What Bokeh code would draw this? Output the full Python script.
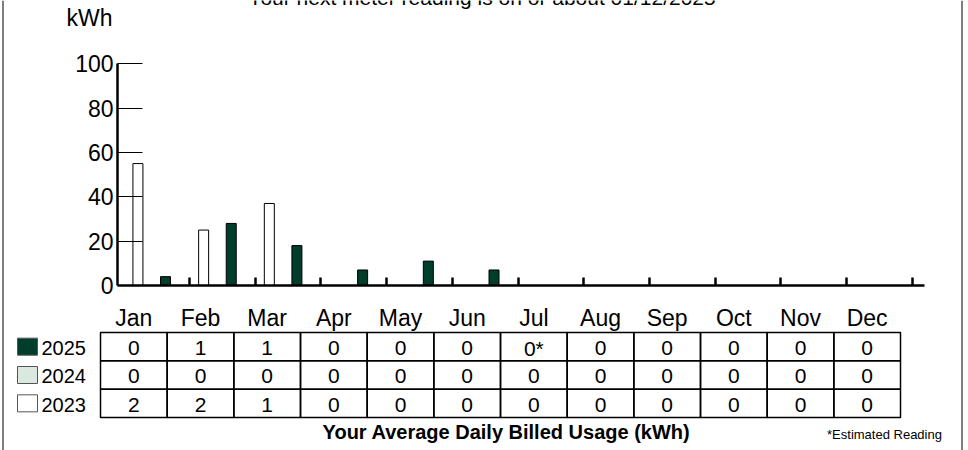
from bokeh.plotting import figure
from bokeh.models import Range1d, LinearAxis, FixedTicker, Span
from bokeh.core.properties import value
from bokeh.embed import file_html
from bokeh.resources import INLINE

# ---------------- data ----------------
months = ["Jan", "Feb", "Mar", "Apr", "May", "Jun", "Jul", "Aug", "Sep", "Oct", "Nov", "Dec"]
years = ["2025", "2024", "2023"]
kwh_2025 = [4, 28, 18, 7, 11, 7, 0, 0, 0, 0, 0, 0]
kwh_2024 = [0, 0, 0, 0, 0, 0, 0, 0, 0, 0, 0, 0]
kwh_2023 = [55, 25, 37, 0, 0, 0, 0, 0, 0, 0, 0, 0]
avg_2025 = ["0", "1", "1", "0", "0", "0", "0*", "0", "0", "0", "0", "0"]
avg_2024 = ["0", "0", "0", "0", "0", "0", "0", "0", "0", "0", "0", "0"]
avg_2023 = ["2", "2", "1", "0", "0", "0", "0", "0", "0", "0", "0", "0"]
y_ticks = [0, 20, 40, 60, 80, 100]
title_text = "Your next meter reading is on or about 01/12/2025"
unit_text = "kWh"
table_title = "Your Average Daily Billed Usage (kWh)"
note_text = "*Estimated Reading"

# ---------------- layout / style ----------------
W, H = 968, 450
MONTH0_PX, MONTH_PX = 123.3, 65.7      # chart x mapping (px)
Y0_PX, Y100_PX = 285.0, 63.3           # chart y mapping (px)
KWH_PX = (Y0_PX - Y100_PX) / 100.0
AXIS_LEFT_PX, AXIS_RIGHT_PX = 117.0, 924.0
TABLE_LEFT_PX, COL_PX = 100.0, 800.0 / 12
TABLE_TOP_PX, ROW_PX = 332.0, 85.0 / 3
BAR_W_PX = 10.0
OFFSETS = {"2023": 0.215, "2024": 0.425, "2025": 0.635}
FILL = {"2025": "#003d2b", "2024": "#dbe8df", "2023": "#ffffff"}
FONT_NAME = "Liberation Sans"
FONT = value(FONT_NAME)
DARK = "#000000"


def sx_to_x(px):
    return (px - MONTH0_PX) / MONTH_PX


def sy_to_y(py):
    return (Y0_PX - py) / KWH_PX


def sx_to_col(px):
    return (px - TABLE_LEFT_PX) / COL_PX


def sy_to_row(py):
    return (py - TABLE_TOP_PX) / ROW_PX


p = figure(width=W, height=H, output_backend="svg", toolbar_location=None,
           x_range=Range1d(sx_to_x(0), sx_to_x(W)),
           y_range=Range1d(sy_to_y(H), sy_to_y(0)),
           x_axis_type=None, y_axis_type=None, min_border=0, title=None)
p.outline_line_color = None
p.background_fill_color = "white"
p.border_fill_color = "white"
p.extra_x_ranges = {"col": Range1d(sx_to_col(0), sx_to_col(W))}
p.extra_y_ranges = {"row": Range1d(sy_to_row(H), sy_to_row(0))}

# ---------------- axes ----------------
yaxis = LinearAxis(ticker=FixedTicker(ticks=y_ticks), fixed_location=sx_to_x(AXIS_LEFT_PX),
                   bounds=(y_ticks[0], y_ticks[-1]))
yaxis.axis_line_width = 2.5
yaxis.axis_line_color = DARK
yaxis.major_tick_in = 25
yaxis.major_tick_out = 0
yaxis.major_tick_line_width = 1.2
yaxis.major_tick_line_color = DARK
yaxis.minor_tick_line_color = None
yaxis.major_label_text_font = FONT_NAME
yaxis.major_label_text_font_size = "23px"
yaxis.major_label_text_color = "black"
yaxis.major_label_standoff = 4
p.add_layout(yaxis, "left")

xaxis = LinearAxis(ticker=FixedTicker(ticks=list(range(1, len(months) + 1))), fixed_location=0,
                   bounds=(sx_to_x(AXIS_LEFT_PX), sx_to_x(AXIS_RIGHT_PX)))
xaxis.axis_line_width = 2.5
xaxis.axis_line_color = DARK
xaxis.major_tick_in = 8
xaxis.major_tick_out = 0
xaxis.major_tick_line_width = 2.5
xaxis.major_tick_line_color = DARK
xaxis.minor_tick_line_color = None
xaxis.major_label_text_color = None
p.add_layout(xaxis, "below")

# ---------------- bars ----------------
bar_w = BAR_W_PX / MONTH_PX
for yr, vals in (("2023", kwh_2023), ("2024", kwh_2024), ("2025", kwh_2025)):
    xs = [i + OFFSETS[yr] for i, v in enumerate(vals) if v > 0]
    tops = [v for v in vals if v > 0]
    if xs:
        p.vbar(x=xs, top=tops, bottom=0, width=bar_w, fill_color=FILL[yr],
               line_color="black", line_width=1)

# ---------------- frame border lines ----------------
for px in (2.5, 961.5):
    p.add_layout(Span(location=sx_to_x(px), dimension="height", line_color="#555555", line_width=1.5))

# ---------------- texts on chart ----------------
p.text(x=[sx_to_x(481.5)], y=[sy_to_y(-3.3)], text=[title_text], text_font=FONT,
       text_font_size="21px", text_align="center", text_baseline="middle", text_color="black")
p.text(x=[sx_to_x(112)], y=[sy_to_y(17.3)], text=[unit_text], text_font=FONT,
       text_font_size="23px", text_align="right", text_baseline="middle", text_color="black")

# ---------------- table ----------------
rows = [avg_2025, avg_2024, avg_2023]
lefts, rights, tops_, bottoms, cx, cy, ctext = [], [], [], [], [], [], []
for r, vals in enumerate(rows):
    for c, t in enumerate(vals):
        lefts.append(c)
        rights.append(c + 1)
        tops_.append(r)
        bottoms.append(r + 1)
        cx.append(c + 0.5)
        cy.append(r + 0.55)
        ctext.append(t)
p.quad(left=lefts, right=rights, top=tops_, bottom=bottoms, fill_color=None,
       line_color="black", line_width=1.5, x_range_name="col", y_range_name="row")
p.text(x=cx, y=cy, text=ctext, text_font=FONT, text_font_size="21px",
       text_align="center", text_baseline="middle", text_color="black",
       x_range_name="col", y_range_name="row")

# month labels
p.text(x=[c + 0.5 for c in range(len(months))], y=[-0.51] * len(months), text=months,
       text_font=FONT, text_font_size="23px", text_align="center", text_baseline="middle",
       text_color="black", x_range_name="col", y_range_name="row")

# legend
sq_l, sq_r = sx_to_col(17), sx_to_col(37)
sq_h = 17.0 / ROW_PX
p.quad(left=[sq_l] * 3, right=[sq_r] * 3,
       top=[r + 0.5 - sq_h / 2 for r in range(3)], bottom=[r + 0.5 + sq_h / 2 for r in range(3)],
       fill_color=[FILL[y] for y in years], line_color="#555555", line_width=1,
       x_range_name="col", y_range_name="row")
p.text(x=[sx_to_col(41)] * 3, y=[r + 0.55 for r in range(3)], text=years, text_font=FONT,
       text_font_size="20px", text_align="left", text_baseline="middle", text_color="black",
       x_range_name="col", y_range_name="row")

# table footer
p.text(x=[sx_to_col(506)], y=[sy_to_row(431.5)], text=[table_title], text_font=FONT,
       text_font_size="20px", text_font_style="bold", text_align="center",
       text_baseline="middle", text_color="black", x_range_name="col", y_range_name="row")
p.text(x=[sx_to_col(884)], y=[sy_to_row(433.5)], text=[note_text], text_font=FONT,
       text_font_size="13px", text_align="center", text_baseline="middle", text_color="black",
       x_range_name="col", y_range_name="row")

open("out.html", "w").write(file_html(p, INLINE))
